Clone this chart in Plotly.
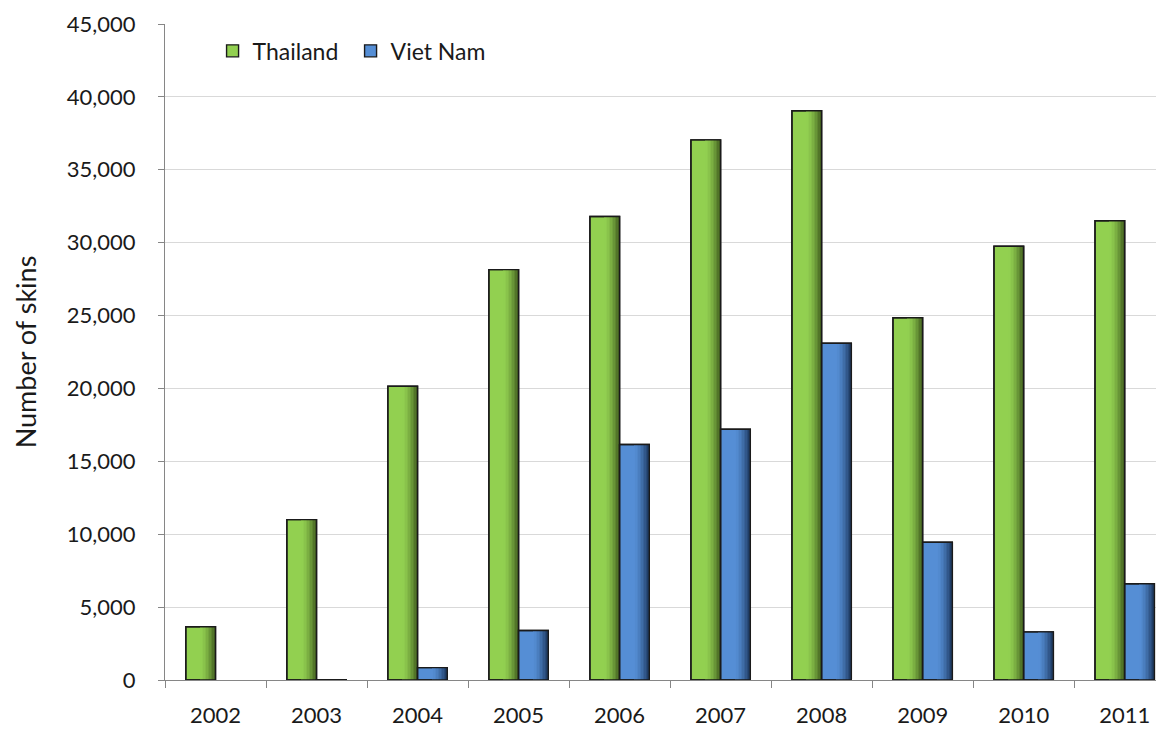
import plotly.graph_objects as go

years = ["2002", "2003", "2004", "2005", "2006", "2007", "2008", "2009", "2010", "2011"]
thailand = [3650, 11000, 20150, 28150, 31800, 37050, 39050, 24850, 29750, 31500]
viet_nam = [None, 20, 850, 3400, 16150, 17200, 23100, 9450, 3300, 6600]

series_names = ["Thailand", "Viet Nam"]
base_colors = ["#92d050", "#558ed5"]
dark_colors = ["#3f5a1e", "#1c375e"]

FONT = "Lato, Open Sans, sans-serif"
BAR_W = 0.294


def hex_to_rgb(h):
    h = h.lstrip("#")
    return tuple(int(h[i:i + 2], 16) for i in (0, 2, 4))


def mix(c1, c2, t):
    a, b = hex_to_rgb(c1), hex_to_rgb(c2)
    return "rgb(%d,%d,%d)" % tuple(round(a[i] + (b[i] - a[i]) * t) for i in range(3))


fig = go.Figure()
all_values = [thailand, viet_nam]
offsets = [-BAR_W, 0.0]

for values, name, base, dark, off in zip(all_values, series_names, base_colors, dark_colors, offsets):
    # main fill (also gives legend symbol)
    fig.add_trace(go.Bar(
        x=years, y=values, name=name, width=BAR_W, offset=off,
        marker=dict(color=base, line=dict(color="#1a1a1a", width=1.4)),
        showlegend=True, hoverinfo="skip",
    ))
    # gradient shading toward right edge
    n = 10
    f0 = 0.5
    for k in range(n):
        a = f0 + (1 - f0) * k / n
        b = f0 + (1 - f0) * (k + 1) / n
        t = ((k + 0.5) / n) ** 1.6
        fig.add_trace(go.Bar(
            x=years, y=values, width=BAR_W * (b - a) + 0.002, offset=off + BAR_W * a,
            marker=dict(color=mix(base, dark, t), line=dict(width=0)),
            showlegend=False, hoverinfo="skip",
        ))
    # outline on top
    fig.add_trace(go.Bar(
        x=years, y=values, width=BAR_W, offset=off,
        marker=dict(color="rgba(0,0,0,0)", line=dict(color="#1a1a1a", width=1.4)),
        showlegend=False, hoverinfo="skip",
    ))

fig.update_layout(
    width=1156, height=732,
    margin=dict(l=165, r=0, t=24, b=52),
    barmode="overlay",
    paper_bgcolor="white", plot_bgcolor="white",
    font=dict(family=FONT, size=22, color="#1a1a1a"),
    legend=dict(
        orientation="h", x=0.048, y=0.959, xanchor="left", yanchor="middle",
        font=dict(family=FONT, size=23, color="#1a1a1a"),
        bgcolor="rgba(0,0,0,0)", itemwidth=30, tracegroupgap=0,
        entrywidth=93,
    ),
    showlegend=True,
    hovermode=False,
)

fig.update_xaxes(
    type="category", range=[-0.5, 9.31],
    showline=True, linecolor="#868686", linewidth=1,
    ticks="outside", tickson="boundaries", ticklen=7, tickcolor="#868686",
    showgrid=False, tickfont=dict(family=FONT, size=22, color="#1a1a1a"),
    ticklabelstandoff=16,
)
fig.update_yaxes(
    range=[0, 45000], dtick=5000, tickformat=",d",
    showline=True, linecolor="#868686", linewidth=1,
    ticks="outside", ticklen=6, tickcolor="#868686",
    showgrid=True, gridcolor="#d9d9d9", gridwidth=1, zeroline=False,
    tickfont=dict(family=FONT, size=22, color="#1a1a1a"),
    ticklabelstandoff=18,
    title=dict(text="Number of skins", font=dict(family=FONT, size=27, color="#1a1a1a"), standoff=22),
)

fig.write_html(
    "out.html",
    config={"displayModeBar": False},
    post_script="document.body.style.margin='0';document.body.style.overflow='hidden';",
)
